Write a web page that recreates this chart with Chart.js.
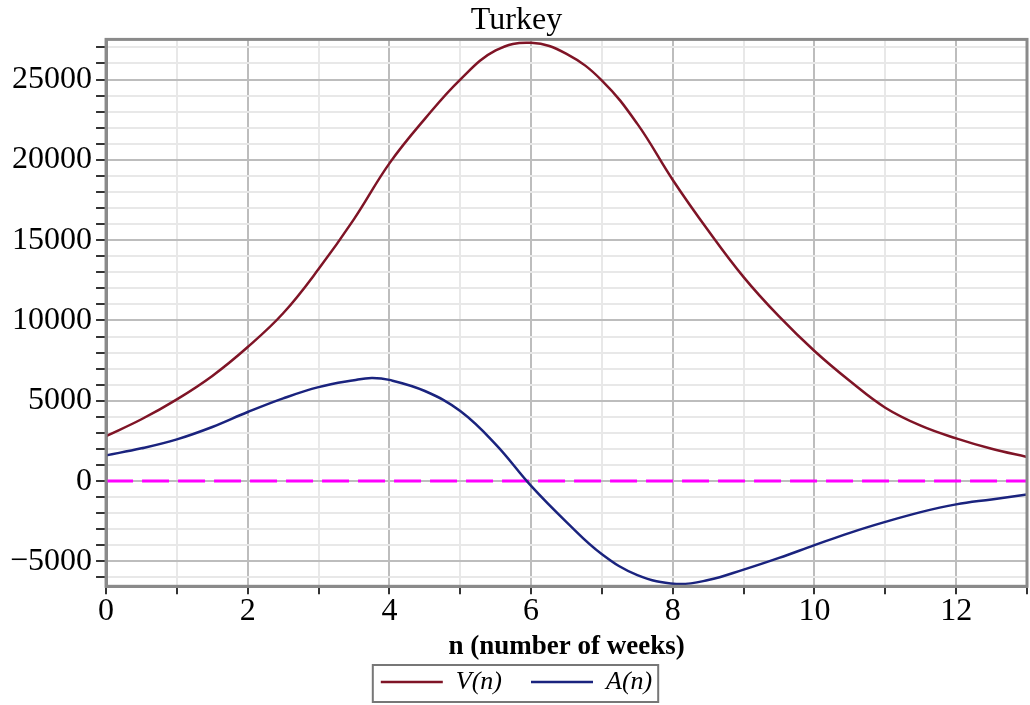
<!DOCTYPE html>
<html>
<head>
<meta charset="utf-8">
<script src="https://cdn.jsdelivr.net/npm/chart.js@4/dist/chart.umd.min.js"></script>
<style>
  html, body { margin: 0; padding: 0; background: #fff; }
  #wrap { width: 1030px; height: 705px; }
</style>
</head>
<body>
<div id="wrap"><canvas id="chart" width="1030" height="705"></canvas></div>
<script>
// V(n)
const vWeeks = [0, 0.5, 1, 1.5, 2, 2.5, 3, 3.5, 4, 4.5, 5, 5.5, 6, 6.5, 7, 7.5, 8, 8.5, 9, 9.5, 10, 10.5, 11, 11.5, 12, 12.5, 13];
const vValues = [2800, 3850, 5090, 6550, 8350, 10450, 13200, 16310, 19780, 22550, 25000, 26810, 27290,
  26600, 24940, 22240, 18750, 15600, 12700, 10250, 8100, 6230, 4570, 3450, 2660, 2010, 1500];

// A(n)
const aWeeks = [0, 0.5, 1, 1.5, 2, 2.5, 3, 3.5, 3.75, 4, 4.5, 5, 5.5, 6, 6.5, 7, 7.5, 8.05, 8.5, 9, 9.5, 10, 10.5, 11, 11.5, 12, 12.5, 13];
const aValues = [1600, 2040, 2600, 3370, 4300, 5150, 5850, 6280, 6420, 6300, 5610, 4360, 2290, -300,
  -2550, -4550, -5850, -6400, -6160, -5510, -4780, -3990, -3220, -2540, -1930, -1450, -1140, -830];

const zeroWeeks = [0, 13];
const zeroLine = [0, 0];

const seriesNames = ["V(n)", "A(n)"];
const chartTitle = "Turkey";
const xTitle = "n (number of weeks)";

const pts = (xs, ys) => xs.map((x, i) => ({ x, y: ys[i] }));
const serif = "'Liberation Serif', 'DejaVu Serif', serif";

// box round the plot area and round the legend
const framePlugin = {
  id: "frame",
  afterDraw(chart) {
    const { ctx, chartArea: a, legend } = chart;
    ctx.save();
    ctx.strokeStyle = "#8a8a8a";
    ctx.lineWidth = 3;
    ctx.strokeRect(a.left, a.top, a.right - a.left, a.bottom - a.top);
    if (legend && legend.legendHitBoxes.length) {
      const boxes = legend.legendHitBoxes;
      const l = Math.min(...boxes.map(b => b.left)) - 8;
      const r = Math.max(...boxes.map(b => b.left + b.width)) + 6;
      const t = Math.min(...boxes.map(b => b.top)) - 4;
      const btm = Math.max(...boxes.map(b => b.top + b.height)) + 7;
      ctx.strokeStyle = "#777";
      ctx.lineWidth = 2;
      ctx.strokeRect(l, t, r - l, btm - t);
    }
    ctx.restore();
  }
};

new Chart(document.getElementById("chart").getContext("2d"), {
  type: "line",
  data: {
    datasets: [
      {
        label: seriesNames[0],
        data: pts(vWeeks, vValues),
        borderColor: "#7f1426",
        borderWidth: 2.5,
        pointRadius: 0,
        tension: 0.4,
        order: 1
      },
      {
        label: seriesNames[1],
        data: pts(aWeeks, aValues),
        borderColor: "#1a237e",
        borderWidth: 2.5,
        pointRadius: 0,
        tension: 0.4,
        order: 2
      },
      {
        label: "zero",
        data: pts(zeroWeeks, zeroLine),
        borderColor: "#ff00ff",
        borderWidth: 3,
        borderDash: [27, 9],
        pointRadius: 0,
        order: 3
      }
    ]
  },
  options: {
    responsive: false,
    animation: false,
    layout: { padding: { left: 6, right: 3, top: 0, bottom: 0 } },
    plugins: {
      title: {
        display: true,
        text: chartTitle,
        color: "#000",
        font: { family: serif, size: 32, weight: "normal", lineHeight: 1.2 },
        padding: { top: 1, bottom: 0 }
      },
      legend: {
        position: "bottom",
        labels: {
          filter: item => item.text !== "zero",
          generateLabels: chart => {
            const items = Chart.defaults.plugins.legend.labels.generateLabels(chart);
            // a wider gap after the first entry, as in the picture
            if (items.length) items[0].text += "\u2002\u2002";
            return items;
          },
          usePointStyle: true,
          pointStyle: "line",
          pointStyleWidth: 62,
          color: "#000",
          font: { family: serif, size: 26, style: "italic", lineHeight: 1 },
          padding: 3
        }
      },
      tooltip: { enabled: false }
    },
    scales: {
      x: {
        type: "linear",
        min: 0,
        max: 13,
        ticks: {
          stepSize: 1,
          autoSkip: false,
          maxRotation: 0,
          color: "#000",
          font: { family: serif, size: 32, lineHeight: 1 },
          padding: 1,
          callback: v => (v % 2 === 0 ? String(v) : "")
        },
        grid: {
          color: c => (c.tick && c.tick.value % 2 === 0 ? "#bdbdbd" : "#e8e8e8"),
          lineWidth: 2,
          tickLength: 8,
          tickColor: "#333"
        },
        border: { color: "#8a8a8a", width: 3 },
        title: {
          display: true,
          text: xTitle,
          color: "#000",
          font: { family: serif, size: 27, weight: "bold", lineHeight: 1.1 },
          padding: { top: 4, bottom: 4 }
        }
      },
      y: {
        min: -6550,
        max: 27500,
        afterBuildTicks: scale => {
          const ticks = [];
          for (let v = -6000; v <= 27000; v += 1000) ticks.push({ value: v });
          scale.ticks = ticks;
        },
        ticks: {
          autoSkip: false,
          color: "#000",
          font: { family: serif, size: 32 },
          padding: 4,
          callback: v => (v % 5000 === 0 ? String(v).replace("-", "\u2212") : "")
        },
        grid: {
          color: c => (c.tick && c.tick.value % 5000 === 0 ? "#bdbdbd" : "#e8e8e8"),
          lineWidth: 2,
          tickLength: 10,
          tickColor: "#333"
        },
        border: { color: "#8a8a8a", width: 3 }
      }
    }
  },
  plugins: [framePlugin]
});
</script>
</body>
</html>
